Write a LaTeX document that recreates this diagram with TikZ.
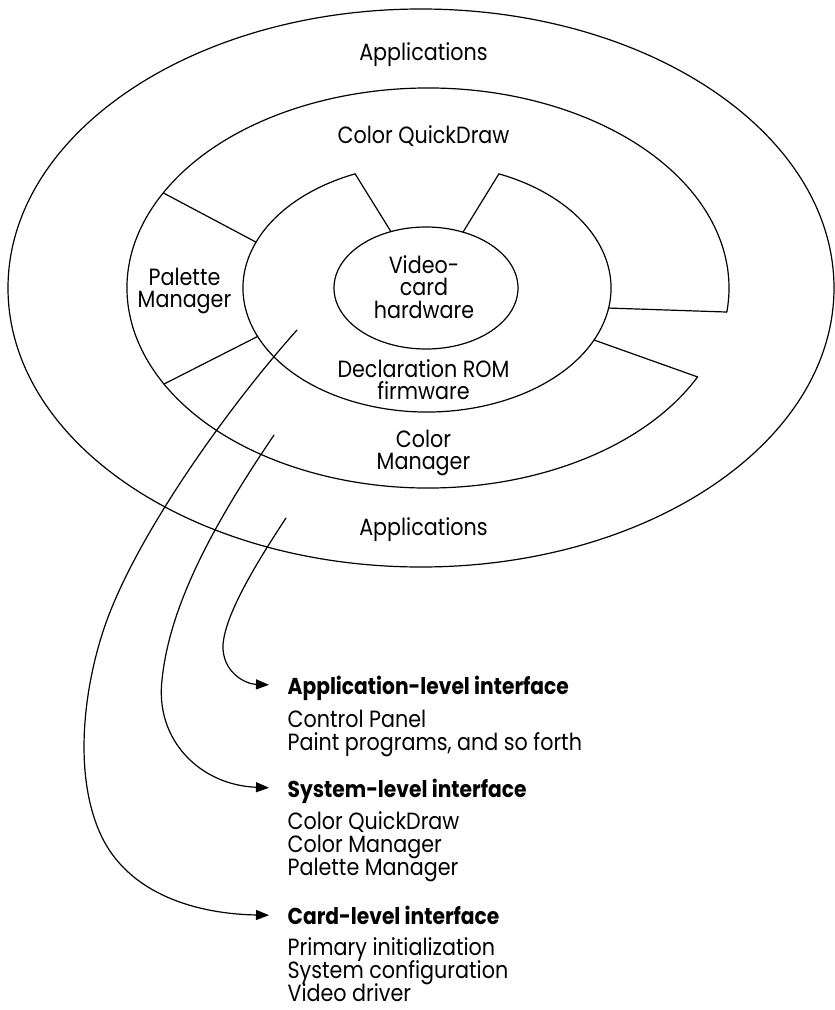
\documentclass[tikz,border=0pt]{standalone}
\usepackage{fontspec}
\setmainfont{Poppins}[FakeStretch=0.88]
\usetikzlibrary{arrows.meta,calc}
% centred and left-aligned stacks of lines; the box baseline is the first line's
\newcommand\linesc[1]{\vtop{\lineskiplimit=-100pt\halign{\hfil##\hfil\cr#1\crcr}}}
\newcommand\linesl[1]{\vtop{\lineskiplimit=-100pt\halign{##\hfil\cr#1\crcr}}}
\begin{document}
\begin{tikzpicture}[x=1pt,y=-1pt,line width=1.2pt,line cap=round,
  lbl/.style={anchor=base,inner sep=0pt,font=\fontsize{23.5}{22.5}\selectfont},
  hd/.style={anchor=base west,inner sep=0pt,text height=17pt,text depth=0pt,
    font=\fontsize{23}{23.5}\selectfont\bfseries},
  items/.style={anchor=base west,inner sep=0pt,font=\fontsize{23.5}{23.3}\selectfont},
  arr/.style={-{Triangle[length=13pt,width=10pt]},shorten >=18pt}]
\useasboundingbox (0,0) rectangle (835,1010);

% centres of the four rings
\coordinate (c0) at (421,288);
\coordinate (c1) at (428,288);
\coordinate (c2) at (427,288);
\coordinate (c3) at (426,288);

% outer ring: applications
\draw (c0) ellipse [x radius=413, y radius=279];
% Color QuickDraw / Color Manager boundary, open on the right
\draw ($(c1)+(26.4:301 and 200)$) arc[start angle=26.4, end angle=366.9, x radius=301, y radius=200];
% declaration ROM ring, open at the top
\draw ($(c2)+(293:184 and 124)$) arc[start angle=293, end angle=607, x radius=184, y radius=124];
% video card hardware
\draw (c3) ellipse [x radius=92, y radius=61];

% notch at the top of the ROM ring
\draw ($(c3)+(247.6:92 and 61)$) -- ($(c2)+(247:184 and 124)$);
\draw ($(c3)+(293.7:92 and 61)$) -- ($(c2)+(293:184 and 124)$);
% palette manager dividers
\draw ($(c1)+(208.4:301 and 200)$) -- ($(c2)+(201.7:184 and 124)$);
\draw ($(c1)+(151.3:301 and 200)$) -- ($(c2)+(157:184 and 124)$);
% ends of the QuickDraw and Color Manager bands
\draw ($(c2)+(9.3:184 and 124)$) -- ($(c1)+(6.9:301 and 200)$);
\draw ($(c2)+(24.8:184 and 124)$) -- ($(c1)+(26.4:301 and 200)$);

% ring labels
\node[lbl] (apptop) at (423.5,60) {Applications};
\node[lbl] (cqd) at (423.5,143) {Color QuickDraw};
\node[lbl] (pal) at (184.5,285) {\linesc{Palette\cr Manager}};
\node[lbl] (vid) at (424,273) {\linesc{Video-\cr card\cr hardware}};
\node[lbl] (rom) at (423.5,377) {\linesc{Declaration ROM\cr firmware}};
\node[lbl] (cm) at (423.5,447) {\linesc{Color\cr Manager}};
\node[lbl] (appbot) at (423.5,535) {Applications};

% interface levels
\node[hd] (hApp) at (287,694) {Application-level interface};
\node[items] (iApp) at (287,727) {\linesl{Control Panel\cr Paint programs, and so forth}};
\node[hd] (hSys) at (287,797) {System-level interface};
\node[items] (iSys) at (287,829) {\linesl{Color QuickDraw\cr Color Manager\cr Palette Manager}};
\node[hd] (hCard) at (287,924) {Card-level interface};
\node[items] (iCard) at (287,955) {\linesl{Primary initialization\cr System configuration\cr Video driver}};

% where each interface reaches into the rings
\coordinate (sCard) at (297,330);
\coordinate (sSys) at (274,435);
\coordinate (sApp) at (286,518);

\draw[arr] (sApp) .. controls (255,565) and (225,615) .. (223,645)
  .. controls (222,672) and (245,684) .. (hApp.west);
\draw[arr] (sSys) .. controls (220,515) and (170,600) .. (162,680)
  .. controls (155,740) and (200,785) .. (hSys.west);
\draw[arr] (sCard) .. controls (230,405) and (140,530) .. (107,620)
  .. controls (85,680) and (72,770) .. (100,833)
  .. controls (128,896) and (200,914) .. (hCard.west);
\end{tikzpicture}
\end{document}
